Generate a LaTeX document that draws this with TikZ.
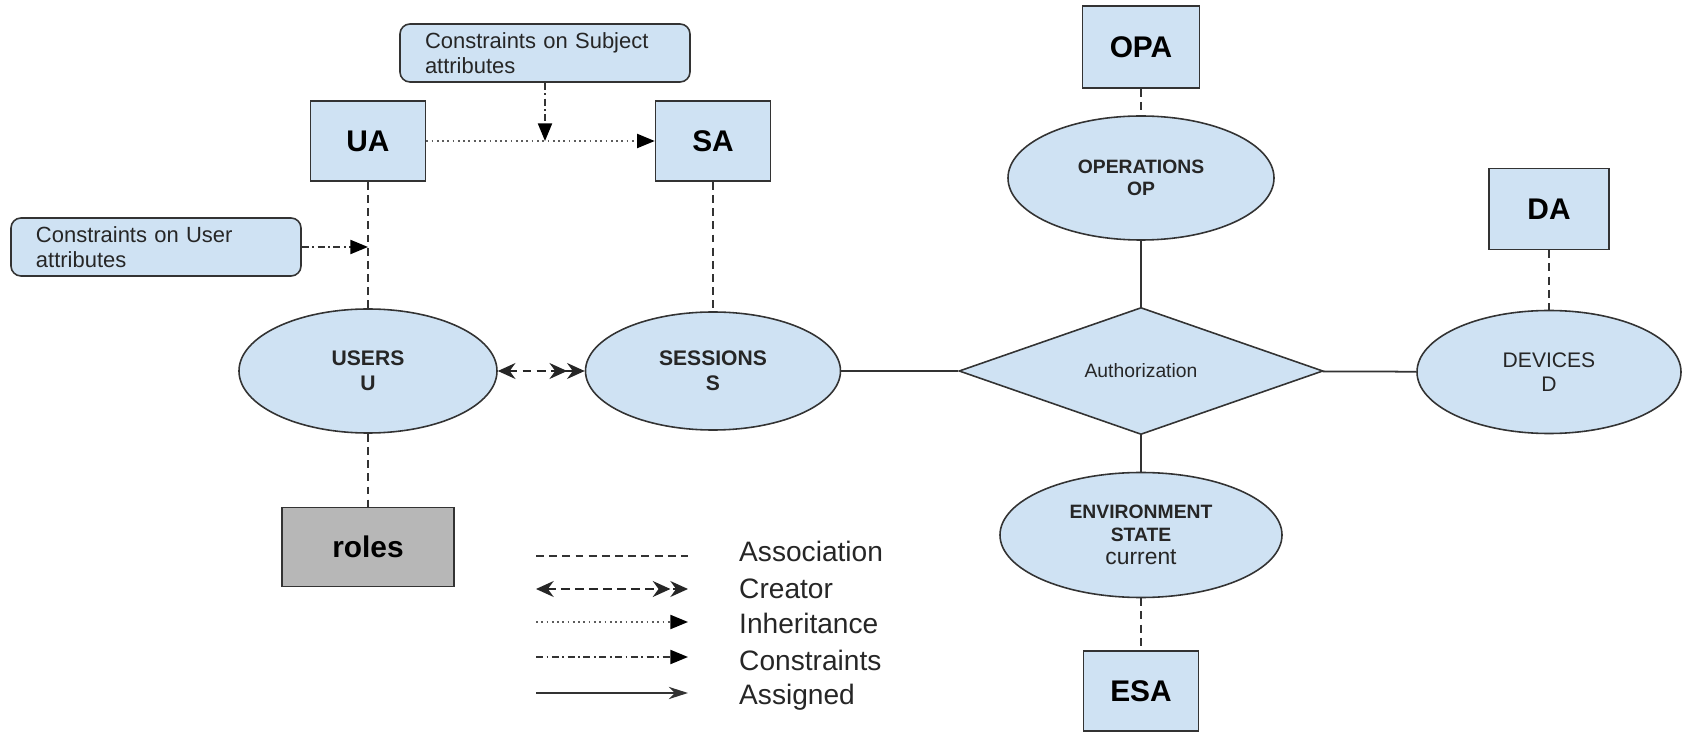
\documentclass[tikz,border=0pt]{standalone}
\usepackage{fontspec}
\setmainfont{Liberation Sans}
\usepackage{tikz}
\usetikzlibrary{arrows.meta,positioning,shapes.geometric}
\usepackage{xcolor}
\definecolor{boxblue}{HTML}{CFE2F3}
\definecolor{rolegray}{HTML}{B7B7B7}
\definecolor{edge}{HTML}{333333}
\definecolor{ink}{HTML}{262626}

\begin{document}
\begin{tikzpicture}[x=0.2mm,y=-0.2mm,
  attr/.style={draw=edge,fill=boxblue,line width=0.9pt,minimum width=2.3cm,minimum height=1.6cm,font=\fontsize{17}{20}\selectfont\bfseries},
  ent/.style={ellipse,draw=edge,fill=boxblue,line width=0.9pt,inner sep=0pt,align=center,text=ink,font=\fontsize{12}{14.5}\selectfont\bfseries},
  note/.style={rounded corners=2mm,draw=edge,fill=boxblue,line width=0.9pt,minimum width=5.8cm,minimum height=1.16cm,text width=4.8cm,inner xsep=0.5cm,align=left,text=ink,font=\fontsize{12.5}{14.2}\selectfont},
  link/.style={edge,line width=1pt},
  assoc/.style={edge,line width=1.1pt,dash pattern=on 4.5pt off 3pt},
  creator/.style={ink,line width=1.6pt,dash pattern=on 5pt off 3pt,{Stealth[length=10pt,width=9pt]}-{Stealth[length=10pt,width=9pt]Stealth[length=10pt,width=9pt]}},
  inherit/.style={edge!80,line width=1pt,dash pattern=on 1pt off 2pt,-{Triangle[length=10pt,width=8pt,color=black]}},
  constr/.style={edge,line width=1pt,dash pattern=on 4pt off 2pt on 1pt off 2pt,-{Triangle[length=10pt,width=8pt,color=black]}},
  assigned/.style={edge,line width=1.1pt,-{Stealth[length=11pt,width=7pt]}},
  legtext/.style={anchor=west,text=ink,font=\fontsize{16}{18}\selectfont}]
  \useasboundingbox (0,0) rectangle (1686,736);

  % attribute boxes
  \node[attr] (ua) at (368,141) {UA};
  \node[attr] (sa) at (713,141) {SA};
  \node[attr,minimum width=2.34cm,minimum height=1.64cm] (opa) at (1141,47) {OPA};
  \node[attr,minimum width=2.4cm,minimum height=1.62cm] (da) at (1549,209) {DA};
  \node[attr] (esa) at (1141,691) {ESA};
  \node[attr,fill=rolegray,minimum width=3.44cm,minimum height=1.58cm] (roles) at (368,547) {roles};

  % constraint notes
  \node[note] (subjnote) at (545,53) {Constraints on Subject\\attributes};
  \node[note] (usernote) at (156,247) {Constraints on User\\attributes};

  % entities
  \node[ent,minimum width=5.16cm,minimum height=2.48cm] (users) at (368,371) {USERS\\U};
  \node[ent,minimum width=5.1cm,minimum height=2.36cm] (sessions) at (713,371) {SESSIONS\\S};
  \node[ent,minimum width=5.32cm,minimum height=2.48cm,font=\fontsize{11}{12.5}\selectfont\bfseries] (ops) at (1141,178) {OPERATIONS\\OP};
  \node[ent,minimum width=5.28cm,minimum height=2.46cm,font=\fontsize{12}{14}\selectfont] (devices) at (1549,372) {DEVICES\\D};
  \node[ent,minimum width=5.64cm,minimum height=2.5cm,font=\fontsize{11}{13}\selectfont\bfseries] (env) at (1141,535)
    {ENVIRONMENT\\STATE\\{\fontsize{13}{13}\selectfont\mdseries current}};
  \node[diamond,draw=edge,fill=boxblue,line width=0.9pt,inner sep=0pt,minimum width=7.28cm,minimum height=2.48cm,text=ink,font=\fontsize{11}{12}\selectfont] (auth) at (1141,371) {Authorization};

  % connectors
  \draw[inherit] (ua) -- (sa);
  \coordinate (subjtip) at (subjnote.south |- ua.east);
  \draw[constr] (subjnote) -- (subjtip);
  \coordinate (usertip) at (ua.south |- usernote.east);
  \draw[constr] (usernote) -- (usertip);
  \draw[assoc] (ua) -- (users);
  \draw[assoc] (sa) -- (sessions);
  \draw[assoc] (users) -- (roles);
  \draw[creator] (users) -- (sessions);
  \draw[link] (sessions) -- (auth);
  \draw[link] (auth) -- (devices);
  \draw[link] (ops) -- (auth);
  \draw[link] (auth) -- (env);
  \draw[assoc] (opa) -- (ops);
  \draw[assoc] (da) -- (devices);
  \draw[assoc] (env) -- (esa);

  % legend
  \foreach \y/\ty/\s/\t in {556/551/assoc/Association,589/589/creator/Creator,622/623/inherit/Inheritance,657/660/constr/Constraints,693/697/assigned/Assigned}{
    \coordinate (\t-a) at (536,\y);
    \coordinate (\t-b) at (688,\y);
    \draw[\s] (\t-a) -- (\t-b);
    \node[legtext] (\t) at (733,\ty) {\t};
  }
\end{tikzpicture}
\end{document}
